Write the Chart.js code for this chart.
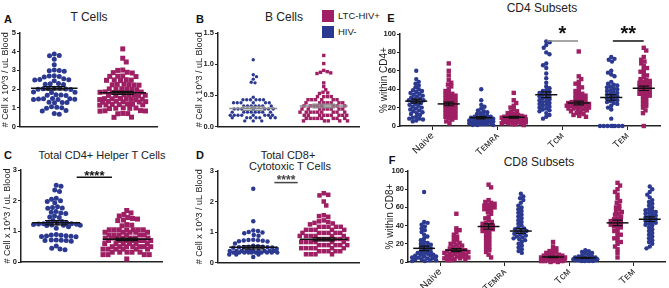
<!DOCTYPE html>
<html><head><meta charset="utf-8">
<script src="https://cdn.jsdelivr.net/npm/chart.js@4.4.1/dist/chart.umd.min.js"></script>
<style>
html,body{margin:0;padding:0;background:#fff;}
body{width:669px;height:288px;position:relative;overflow:hidden;font-family:"Liberation Sans",Arial,sans-serif;color:#222;}
canvas{position:absolute;}
.c{position:absolute;white-space:nowrap;transform:translate(-50%,-50%);line-height:1;}
.t{font-size:12px;}
.L{font-size:11px;font-weight:bold;color:#111;}
.sq{position:absolute;width:12px;height:12px;}
.lg{position:absolute;font-size:9.5px;line-height:1;transform:translateY(-50%);white-space:nowrap;}
</style></head><body>

<div class="c L" style="left:8px;top:19px">A</div>
<div class="c L" style="left:200px;top:19px">B</div>
<div class="c L" style="left:8px;top:155px">C</div>
<div class="c L" style="left:200px;top:155px">D</div>
<div class="c L" style="left:391px;top:18px">E</div>
<div class="c L" style="left:392px;top:160px">F</div>

<div class="c t" style="left:89px;top:17px">T Cells</div>
<div class="c t" style="left:284px;top:17px">B Cells</div>
<div class="c t" style="left:102px;top:155px;font-size:11px">Total CD4+ Helper T Cells</div>
<div class="c t" style="left:288px;top:155px;font-size:11px">Total CD8+</div>
<div class="c t" style="left:290px;top:166px;font-size:11px">Cytotoxic T Cells</div>
<div class="c t" style="left:542px;top:8px">CD4 Subsets</div>
<div class="c t" style="left:539px;top:162px">CD8 Subsets</div>

<div class="sq" style="left:322px;top:10px;background:#9e1f63"></div>
<div class="lg" style="left:338px;top:16px">LTC-HIV+</div>
<div class="sq" style="left:322px;top:26px;background:#2b3990"></div>
<div class="lg" style="left:338px;top:32px">HIV-</div>

<canvas id="cA" width="162" height="108" style="left:0px;top:24px;width:162px;height:108px"></canvas>
<canvas id="cB" width="170" height="108" style="left:194px;top:24px;width:170px;height:108px"></canvas>
<canvas id="cC" width="165" height="108" style="left:2px;top:160px;width:165px;height:108px"></canvas>
<canvas id="cD" width="170" height="108" style="left:194px;top:160px;width:170px;height:108px"></canvas>
<canvas id="cE" width="291" height="135" style="left:378px;top:20px;width:291px;height:135px"></canvas>
<canvas id="cF" width="285" height="123" style="left:384px;top:165px;width:285px;height:123px"></canvas>

<script>
// ---------------- DATA ----------------
const groupNames = ['HIV-', 'LTC-HIV+'];
const yTitleCount = '# Cell x 10^3 / uL Blood';

// A: T cells
const tCellsHIVneg = [3.88,3.8,3.78,3.6,3.3,3.02,3.0,2.98,2.95,2.72,2.7,2.68,2.65,2.55,2.52,2.5,2.48,2.45,2.3,2.28,2.26,2.24,2.05,2.04,2.03,2.02,2.0,1.99,1.98,1.85,1.83,1.82,1.7,1.68,1.67,1.66,1.5,1.49,1.48,1.47,1.46,1.45,1.44,1.3,1.29,1.28,1.27,1.05,1.03,1.0,0.98,0.85,0.83,0.7,0.65];
const tCellsLTC = [4.15,3.65,3.45,3.02,3.0,2.9,2.88,2.86,2.7,2.69,2.68,2.67,2.5,2.49,2.48,2.47,2.46,2.26,2.25,2.24,2.23,2.22,2.21,2.02,2.01,2.0,1.99,1.98,1.97,1.85,1.84,1.83,1.82,1.81,1.7,1.69,1.68,1.67,1.66,1.65,1.64,1.5,1.49,1.48,1.47,1.46,1.45,1.44,1.43,1.35,1.34,1.33,1.32,1.31,1.3,1.2,1.19,1.18,1.17,1.16,1.15,1.14,1.0,0.99,0.98,0.97,0.96,0.85,0.84,0.83,0.82,0.7,0.69,0.68,0.5,0.49];
const tCellsMean = [2.05, 1.8];
const tCellsSEM = [0.09, 0.08];

// B: B cells
const bCellsHIVneg = [1.07,0.83,0.80,0.76,0.71,0.70,0.47,0.43,0.43,0.43,0.43,0.43,0.43,0.38,0.38,0.38,0.38,0.38,0.38,0.33,0.33,0.33,0.33,0.33,0.33,0.33,0.28,0.28,0.28,0.28,0.28,0.28,0.28,0.23,0.23,0.23,0.23,0.23,0.23,0.23,0.23,0.18,0.18,0.18,0.18,0.18,0.18,0.18,0.18,0.14,0.14,0.14,0.14,0.14,0.14,0.14,0.09,0.09,0.09];
const bCellsLTC = [1.14,1.01,0.90,0.88,0.87,0.86,0.85,0.70,0.64,0.59,0.55,0.54,0.53,0.48,0.48,0.48,0.48,0.43,0.43,0.43,0.43,0.43,0.43,0.38,0.38,0.38,0.38,0.38,0.38,0.38,0.33,0.33,0.33,0.33,0.33,0.33,0.33,0.33,0.28,0.28,0.28,0.28,0.28,0.28,0.28,0.28,0.23,0.23,0.23,0.23,0.23,0.23,0.23,0.23,0.23,0.18,0.18,0.18,0.18,0.18,0.18,0.18,0.18,0.18,0.13,0.13,0.13,0.13,0.13,0.13,0.13,0.13,0.09,0.09,0.09,0.09,0.09];
const bCellsMean = [0.29, 0.33];
const bCellsSEM = [0.03, 0.03];

// C: total CD4+ helper T cells
const cd4CountHIVneg = [2.5,2.47,2.35,2.3,2.08,2.05,2.0,1.97,1.93,1.8,1.78,1.76,1.75,1.65,1.62,1.6,1.58,1.5,1.47,1.45,1.35,1.32,1.3,1.28,1.27,1.25,1.25,1.24,1.23,1.22,1.21,1.2,1.2,1.19,1.15,1.1,0.9,0.88,0.87,0.86,0.85,0.84,0.83,0.82,0.72,0.72,0.71,0.7,0.7,0.68,0.52,0.45,0.42,0.4];
const cd4CountLTC = [1.68,1.6,1.55,1.5,1.45,1.42,1.4,1.37,1.35,1.22,1.2,1.18,1.05,1.05,1.05,1.05,1.05,1.05,1.05,0.97,0.97,0.97,0.97,0.97,0.88,0.88,0.88,0.88,0.88,0.88,0.78,0.78,0.78,0.78,0.78,0.78,0.78,0.7,0.7,0.7,0.7,0.7,0.7,0.7,0.6,0.6,0.6,0.6,0.6,0.6,0.5,0.5,0.5,0.5,0.5,0.5,0.5,0.42,0.42,0.42,0.42,0.42,0.42,0.32,0.32,0.32,0.32,0.32,0.24,0.24,0.24,0.24,0.1];
const cd4CountMean = [1.28, 0.74];
const cd4CountSEM = [0.07, 0.04];

// D: total CD8+ cytotoxic T cells
const cd8CountHIVneg = [2.42,1.35,1.05,1.03,1.0,0.98,0.96,0.9,0.88,0.75,0.74,0.73,0.72,0.71,0.7,0.69,0.62,0.55,0.53,0.52,0.52,0.51,0.5,0.5,0.49,0.48,0.45,0.38,0.38,0.38,0.38,0.38,0.38,0.38,0.38,0.38,0.38,0.33,0.33,0.33,0.33,0.33,0.33,0.33,0.33,0.33,0.33,0.26,0.26,0.26,0.18];
const cd8CountLTC = [2.27,2.22,2.2,2.0,1.87,1.55,1.52,1.5,1.38,1.35,1.33,1.3,1.28,1.25,1.17,1.17,1.17,1.17,1.17,1.07,1.07,1.07,1.07,1.07,0.97,0.97,0.97,0.97,0.97,0.97,0.87,0.87,0.87,0.87,0.87,0.87,0.77,0.77,0.77,0.77,0.77,0.77,0.67,0.67,0.67,0.67,0.67,0.67,0.57,0.57,0.57,0.57,0.57,0.57,0.47,0.47,0.47,0.47,0.47,0.47,0.37,0.37,0.37,0.37,0.37,0.27,0.27,0.27,0.27];
const cd8CountMean = [0.5, 0.76];
const cd8CountSEM = [0.05, 0.05];

// E: CD4 subsets (% within CD4+)
const subsetLabels = ['Naive', 'T\u1D07\u1D0D\u0280\u1D00', 'T\u1D04\u1D0D', 'T\u1D07\u1D0D'];
const cd4NaiveHIVneg = [60,51,48,46,44,42,40,39,38,37,36,35,34,33,32,31,30,29,28,28,27,26,25,24,23,22,21,20,19,18,17,16,15,14,13,12,10,9,8,8,7,6,5];
const cd4NaiveLTC = [68,60,55,50,47,45,43,40,38,36,35,34,33,32,31,30,29,28,27,26,25,24,23,22,21,20,19,18,17,16,15,14,13,12,11,10,9,8,7,5,3];
const cd4TemraHIVneg = [40,28,23,21,19,17,16,15,14,13,12,11,10,10,10,9,9,8,8,8,7,7,6,6,6,5,5,5,4,4,4,3,3,3,2,2,2,1,1,1];
const cd4TemraLTC = [36,28,25,22,20,18,16,15,14,13,12,11,11,10,10,10,9,9,9,8,8,8,7,7,7,6,6,6,5,5,5,4,4,4,3,3,3,2,2,1];
const cd4TcmHIVneg = [92,91,88,85,80,78,68,66,63,57,52,47,43,41,39,38,37,36,35,34,33,32,31,30,29,28,27,26,25,24,23,22,21,20,19,18,17,16,14,12,10,8];
const cd4TcmLTC = [81,54,51,48,46,44,42,40,38,36,35,34,33,32,31,30,29,28,27,26,26,25,25,24,24,23,23,22,22,21,21,20,20,19,19,18,18,17,16,15,14,13,12,11,10];
const cd4TemHIVneg = [75,73,72,70,60,58,56,54,48,46,45,44,43,42,41,40,39,38,37,36,35,34,33,32,31,30,29,28,27,26,25,24,22,20,18,8,0,0,0,0,0,0,0,0];
const cd4TemLTC = [85,82,75,72,70,68,65,63,61,59,57,55,53,51,50,49,48,47,46,45,44,43,42,41,40,39,38,37,36,35,34,33,32,30,28,26,24,22,20,17,14,0];
const cd4SubsetMean = [27, 24, 9, 9.5, 34, 25, 31, 41];
const cd4SubsetSEM = [2.2, 2.0, 1.2, 1.0, 3.2, 2.0, 3.0, 2.4];

// F: CD8 subsets (% within CD8+)
const cd8NaiveHIVneg = [77,44,43,41,39,37,35,33,30,28,26,24,22,21,20,19,18,17,16,15,14,13,12,11,10,10,9,8,8,7,7,6,6,5,5,4,4,3,3,2,2,1,1];
const cd8NaiveLTC = [53,37,35,33,30,28,26,24,22,21,20,19,18,17,16,15,14,13,13,12,12,11,11,10,10,9,9,8,8,7,7,6,6,5,5,4,4,3,3,2,2];
const cd8TemraLTC = [85,82,68,66,65,64,63,62,61,60,59,58,57,55,53,50,48,46,44,43,42,41,40,39,38,37,36,35,34,33,31,29,27,25,23,21,19,17,15,13,11,8,5];
const cd8TemraHIVneg = [75,72,70,68,65,62,60,58,56,54,52,50,48,46,44,42,40,38,37,36,35,34,33,32,31,30,29,28,27,26,25,24,22,20,18,16,14,12,10];
const cd8TcmLTC = [22,17,15,13,12,11,10,9,8,8,7,7,6,6,6,5,5,5,4,4,4,4,3,3,3,3,2,2,2,2,1,1,1,1,0,0];
const cd8TcmHIVneg = [13,12,11,10,9,8,7,6,6,5,5,5,4,4,4,4,3,3,3,3,2,2,2,2,1,1,1,1];
const cd8TemLTC = [87,84,80,77,74,70,67,65,62,60,58,56,55,53,52,50,48,47,46,45,44,43,42,41,40,39,38,36,34,32,30,28,26,24,22,20,17,14,10,5];
const cd8TemHIVneg = [83,80,77,74,71,68,66,64,62,60,58,57,56,55,54,53,52,51,50,49,48,47,46,45,44,43,42,41,40,38,36,34,32,30,28,26,24,22,20,17,15];
const cd8SubsetMean = [15, 13, 39, 34, 5.5, 4.5, 43, 47];
const cd8SubsetSEM = [2.5, 1.7, 3.0, 2.6, 0.8, 0.5, 3.0, 2.5];

// ---------------- RENDERING ----------------
const FF = '"Liberation Sans", Arial, sans-serif';
const BLUE = '#2b3990', RED = '#9e1f63';
const INK = '#222';

function mkDataset(values, g, color, size, gap) {
  const rect = color === RED;
  return {
    data: values.map(v => ({x: g, y: v})),
    group: g, gap: gap,
    backgroundColor: color, borderColor: color, borderWidth: 0,
    pointStyle: rect ? 'rect' : 'circle',
    pointRadius: rect ? size / Math.SQRT2 : size / 2,
    pointHoverRadius: rect ? size / Math.SQRT2 : size / 2,
    clip: false
  };
}

function yAxis(min, max, step, title, width, fmt, titleSize) {
  return {
    type: 'linear', min, max,
    ticks: {stepSize: step, font: {size: 7.5, weight: 'bold', family: FF}, color: INK, padding: 1,
            callback: fmt || (v => String(v))},
    grid: {display: true, drawOnChartArea: false, drawTicks: true, tickLength: 3, color: INK, lineWidth: 1},
    border: {display: true, color: INK, width: 1.5},
    title: {display: true, text: title, font: {size: titleSize || 9, family: FF}, color: INK, padding: 0},
    afterFit: a => { a.width = width; }
  };
}

function xAxisPlain() {
  return {
    type: 'linear', min: -0.5, max: 1.5,
    ticks: {display: false},
    grid: {display: false},
    border: {display: true, color: INK, width: 1.5},
    afterFit: a => { a.height = 0; }
  };
}

function xAxisSubsets(h) {
  return {
    type: 'linear', min: -0.5, max: 7.5,
    afterBuildTicks: a => { a.ticks = [0.5, 2.5, 4.5, 6.5].map(v => ({value: v})); },
    ticks: {autoSkip: false, minRotation: 45, maxRotation: 45, padding: 0,
            font: {size: 10, family: FF}, color: INK,
            callback: (v, i) => subsetLabels[i]},
    grid: {display: true, drawOnChartArea: false, drawTicks: true, tickLength: 4, color: INK, lineWidth: 1},
    border: {display: true, color: INK, width: 1.5},
    afterFit: a => { a.height = h; }
  };
}

function meanPlugin(means, sems, color) {
  return {
    id: 'meanSem',
    afterDatasetsDraw(chart) {
      const ctx = chart.ctx, xs = chart.scales.x, ys = chart.scales.y;
      ctx.save();
      ctx.strokeStyle = color; ctx.lineWidth = 1.5;
      means.forEach((m, g) => {
        const s = sems[g];
        const y = ys.getPixelForValue(m);
        const xl = xs.getPixelForValue(g - 0.34), xr = xs.getPixelForValue(g + 0.34);
        ctx.beginPath(); ctx.moveTo(xl, y); ctx.lineTo(xr, y); ctx.stroke();
        const yt = ys.getPixelForValue(m + s), yb = ys.getPixelForValue(m - s);
        const xc = xs.getPixelForValue(g);
        const cl = xs.getPixelForValue(g - 0.16), cr = xs.getPixelForValue(g + 0.16);
        ctx.lineWidth = 1.2;
        ctx.beginPath();
        ctx.moveTo(xc, yt); ctx.lineTo(xc, yb);
        ctx.moveTo(cl, yt); ctx.lineTo(cr, yt);
        ctx.moveTo(cl, yb); ctx.lineTo(cr, yb);
        ctx.stroke();
        ctx.lineWidth = 1.5;
      });
      ctx.restore();
    }
  };
}

function sigPlugin(items) {
  return {
    id: 'sig',
    afterDraw(chart) {
      const ctx = chart.ctx, xs = chart.scales.x, ys = chart.scales.y;
      ctx.save();
      items.forEach(it => {
        const x1 = xs.getPixelForValue(it.x1), x2 = xs.getPixelForValue(it.x2);
        const y = ys.getPixelForValue(it.y);
        ctx.strokeStyle = it.lineColor; ctx.lineWidth = 1.5;
        ctx.beginPath(); ctx.moveTo(x1, y); ctx.lineTo(x2, y); ctx.stroke();
        ctx.fillStyle = it.color;
        ctx.font = 'bold ' + it.size + 'px ' + FF;
        ctx.textAlign = 'center'; ctx.textBaseline = 'alphabetic';
        ctx.fillText(it.text, (x1 + x2) / 2, y - it.dy + 0.57 * it.size);
      });
      ctx.restore();
    }
  };
}

function swarm(chart, halfW) {
  const xs = chart.scales.x, ys = chart.scales.y;
  chart.data.datasets.forEach(ds => {
    const cx = xs.getPixelForValue(ds.group);
    const D = ds.gap;
    const items = ds.data.map((p, i) => ({i, py: ys.getPixelForValue(p.y)}));
    items.sort((a, b) => a.py - b.py);
    const placed = [];
    let flip = 1;
    const step = 0.25, n = Math.floor(halfW / step);
    items.forEach(it => {
      const near = placed.filter(p => Math.abs(p.py - it.py) < D);
      let best = 0, bestScore = -1, found = false;
      for (let k = 0; k <= n && !found; k++) {
        const signs = k === 0 ? [1] : [flip, -flip];
        for (const sgn of signs) {
          const ox = sgn * k * step;
          let md = Infinity;
          for (const p of near) {
            const d = Math.hypot(p.ox - ox, p.py - it.py);
            if (d < md) md = d;
          }
          if (md >= D) { best = ox; found = true; break; }
          if (md > bestScore) { bestScore = md; best = ox; }
        }
      }
      if (best > 0) flip = -1; else if (best < 0) flip = 1;
      placed.push({ox: best, py: it.py});
      ds.data[it.i].x = xs.getValueForPixel(cx + best);
    });
  });
  chart.update('none');
}

function build(id, datasets, x, y, padding, plugins, halfW) {
  const chart = new Chart(document.getElementById(id), {
    type: 'scatter',
    data: {datasets},
    options: {
      responsive: false, animation: false, devicePixelRatio: 1, events: [],
      layout: {padding},
      plugins: {legend: {display: false}, tooltip: {enabled: false}, title: {display: false}},
      scales: {x, y}
    },
    plugins
  });
  swarm(chart, halfW);
  return chart;
}

const fmt1 = v => Number(v).toFixed(1);

// A
build('cA', [mkDataset(tCellsHIVneg, 0, BLUE, 5, 5.0), mkDataset(tCellsLTC, 1, RED, 5, 5.0)],
  xAxisPlain(), yAxis(0, 5, 1, yTitleCount, 20), {left: 0, top: 9, right: 5, bottom: 5},
  [meanPlugin(tCellsMean, tCellsSEM, '#111')], 23);

// B
build('cB', [mkDataset(bCellsHIVneg, 0, BLUE, 3.4, 3.7), mkDataset(bCellsLTC, 1, RED, 3.4, 3.7)],
  xAxisPlain(), yAxis(0, 1.5, 0.5, yTitleCount, 24, fmt1), {left: 0, top: 9, right: 5, bottom: 5},
  [meanPlugin(bCellsMean, bCellsSEM, '#8a8a8a')], 24);

// C
build('cC', [mkDataset(cd4CountHIVneg, 0, BLUE, 5, 4.8), mkDataset(cd4CountLTC, 1, RED, 5, 4.8)],
  xAxisPlain(), yAxis(0, 3, 1, yTitleCount, 19), {left: 0, top: 10, right: 5, bottom: 6},
  [meanPlugin(cd4CountMean, cd4CountSEM, '#111'),
   sigPlugin([{x1: 0.29, x2: 0.79, y: 2.76, text: '****', size: 13, dy: 5, color: '#111', lineColor: '#111'}])], 24);

// D
build('cD', [mkDataset(cd8CountHIVneg, 0, BLUE, 4.5, 4.6), mkDataset(cd8CountLTC, 1, RED, 4.5, 4.6)],
  xAxisPlain(), yAxis(0, 3, 1, yTitleCount, 24), {left: 0, top: 11, right: 5, bottom: 5},
  [meanPlugin(cd8CountMean, cd8CountSEM, '#111'),
   sigPlugin([{x1: 0.30, x2: 0.63, y: 2.62, text: '****', size: 12, dy: 5.5, color: '#444', lineColor: '#444'}])], 24);

// E
const eGroups = [cd4NaiveHIVneg, cd4NaiveLTC, cd4TemraHIVneg, cd4TemraLTC, cd4TcmHIVneg, cd4TcmLTC, cd4TemHIVneg, cd4TemLTC];
const eColors = [BLUE, RED, BLUE, RED, BLUE, RED, BLUE, RED];
build('cE', eGroups.map((v, g) => mkDataset(v, g, eColors[g], 4.4, 3.6)),
  xAxisSubsets(29), yAxis(0, 100, 20, '% within CD4+', 22, null, 10), {left: 0, top: 14, right: 9, bottom: 0},
  [meanPlugin(cd4SubsetMean, cd4SubsetSEM, '#111'),
   sigPlugin([{x1: 4.02, x2: 4.98, y: 92.4, text: '*', size: 20, dy: 12, color: '#111', lineColor: '#888'},
              {x1: 6.05, x2: 7.0, y: 92.4, text: '**', size: 20, dy: 12, color: '#111', lineColor: '#111'}])], 12);

// F
const fGroups = [cd8NaiveHIVneg, cd8NaiveLTC, cd8TemraLTC, cd8TemraHIVneg, cd8TcmLTC, cd8TcmHIVneg, cd8TemLTC, cd8TemHIVneg];
const fColors = [BLUE, RED, RED, BLUE, RED, BLUE, RED, BLUE];
build('cF', fGroups.map((v, g) => mkDataset(v, g, fColors[g], 4.4, 3.6)),
  xAxisSubsets(26), yAxis(0, 100, 20, '% within CD8+', 24, null, 10), {left: 0, top: 6, right: 2, bottom: 0},
  [meanPlugin(cd8SubsetMean, cd8SubsetSEM, '#111')], 12);
</script>
</body></html>
